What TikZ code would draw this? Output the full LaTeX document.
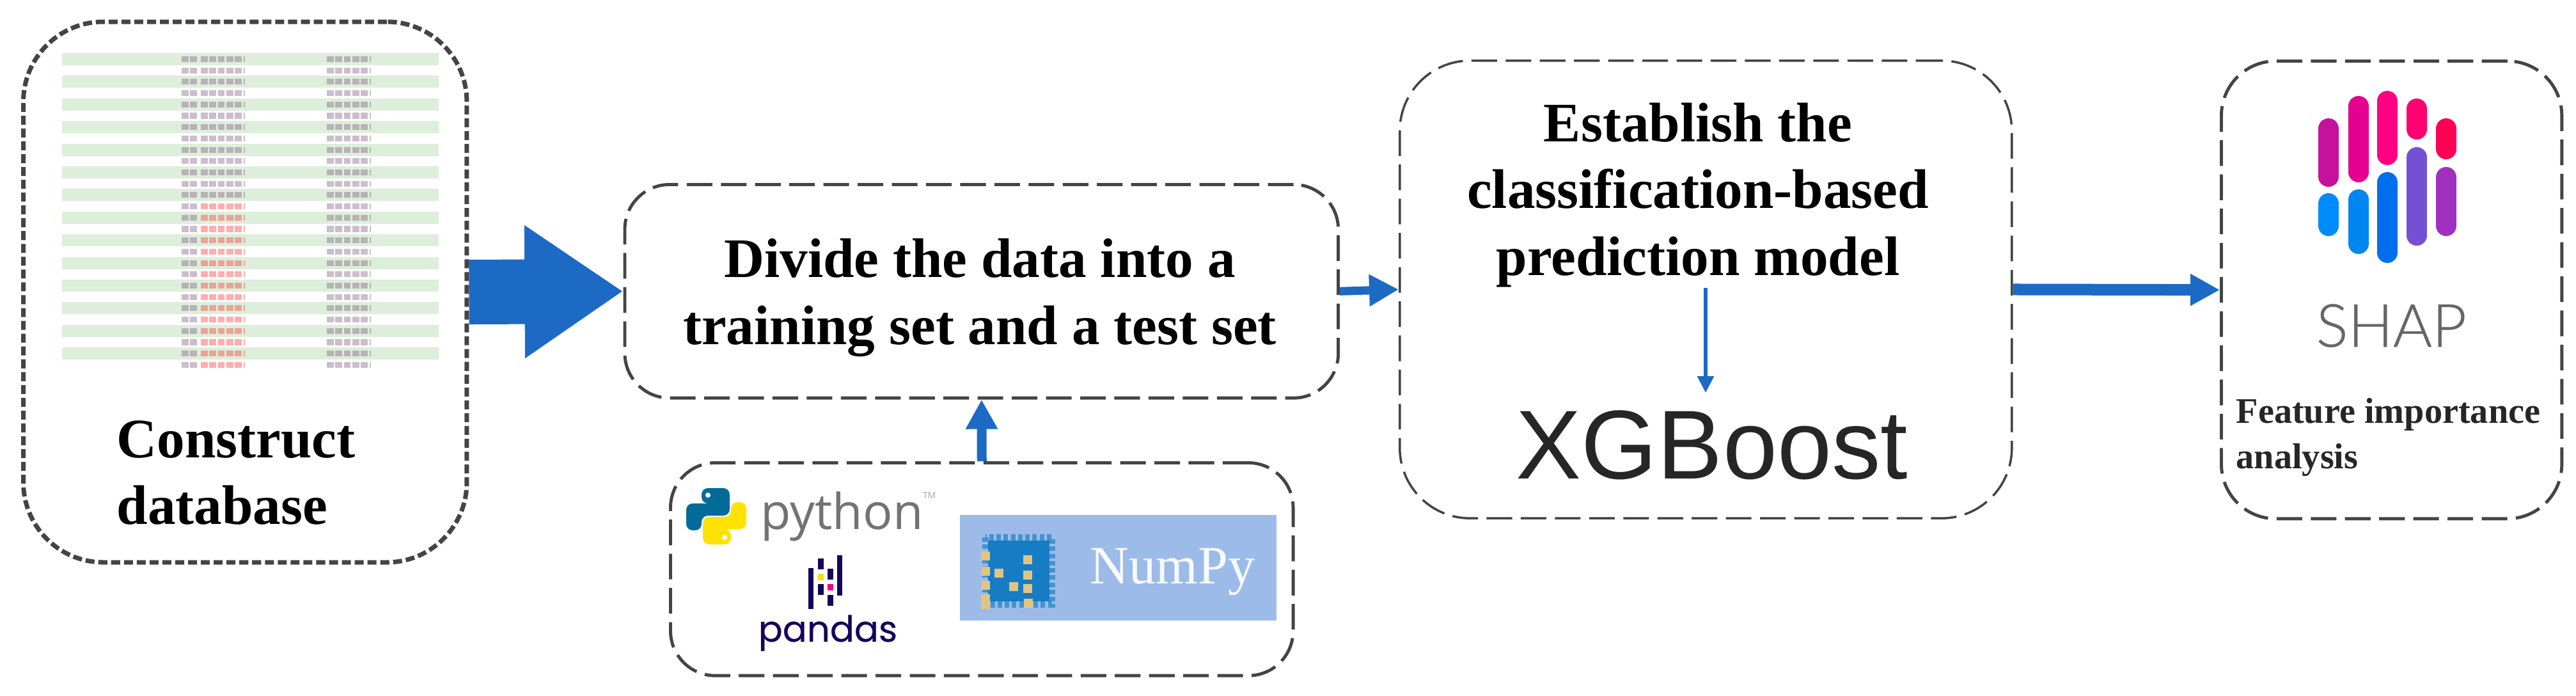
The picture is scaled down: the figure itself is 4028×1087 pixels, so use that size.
\documentclass[tikz,border=0pt]{standalone}
\usepackage{fontspec}
\usepackage{xcolor}
\usepackage{tikz}
\usetikzlibrary{positioning,arrows.meta}
\setmainfont{Liberation Serif}
\newfontfamily\xgbfont{Liberation Sans}
\newfontfamily\pyfont{Open Sans}
\newfontfamily\pdfont[FakeBold=0.4]{Poppins}
\newfontfamily\shapfont[FakeBold=0.5]{Lato Light}
\definecolor{flowblue}{RGB}{28,106,196}
\definecolor{dashgray}{RGB}{68,68,68}
\definecolor{rowgreen}{RGB}{221,238,218}
\definecolor{pdnavy}{RGB}{21,4,88}
\definecolor{npback}{RGB}{157,187,232}
\definecolor{npblue}{RGB}{22,124,196}
\definecolor{nptan}{RGB}{226,196,130}
\tikzset{
  stagebox/.style={draw=dashgray, rounded corners=1.1cm, line width=1.4pt, dash pattern=on 11.4pt off 3.8pt, anchor=north west, inner sep=0pt},
  titletext/.style={font=\bfseries\fontsize{24.8pt}{29.8pt}\selectfont, align=center, inner sep=0pt},
  smalltext/.style={font=\bfseries\fontsize{16pt}{20.2pt}\selectfont, align=left, inner sep=0pt, text=black!85},
  flowline/.style={draw=flowblue, -{Triangle[length=46*0.2845pt,width=47*0.2845pt]}},
  tablebar/.style={draw=violet!30!gray, line width=2.6pt, dash pattern=on 3pt off 0.8pt, opacity=0.4},
  tablered/.style={draw=red!80!white, line width=2.6pt, dash pattern=on 3pt off 0.8pt, opacity=0.4},
  pdbar/.style={fill=pdnavy},
  shapbar/.style={line width=32*0.2845pt, line cap=round}
}
\newcommand{\snakepath}{(0,-20) -- (-47,-20) -- (-47,22) -- (-23,22) -- (-23,-1) -- (21,-1) -- (21,-44) -- (-23,-44) -- (-23,-20) -- cycle}
\begin{document}
\begin{tikzpicture}[x=0.01cm,y=-0.01cm]
  \useasboundingbox (0,0) rectangle (4028,1087);

  % Stages
  \node[stagebox, rounded corners=1.25cm, dash pattern=on 4pt off 1.7pt, line width=2pt, minimum width=6.93cm, minimum height=8.445cm] (dbbox) at (33,30.5) {};
  \node[stagebox, rounded corners=0.7cm, minimum width=11.15cm, minimum height=3.335cm] (splitbox) at (974.5,286) {};
  \node[stagebox, rounded corners=0.7cm, minimum width=9.73cm, minimum height=3.325cm] (libbox) at (1046,721) {};
  \node[stagebox, line width=1pt, minimum width=9.565cm, minimum height=7.15cm] (modelbox) at (2187,93) {};
  \node[stagebox, rounded corners=0.85cm, minimum width=5.32cm, minimum height=7.15cm] (shapbox) at (3471,93) {};

  % Table
  \foreach \row in {0,2,...,26}
    \fill[rowgreen] (97,{92.5+17.7*\row-9.5}) rectangle (686,{92.5+17.7*\row+9.5});
  \foreach \row in {0,...,27} {
    \draw[tablebar] (284,{92.5+17.7*\row}) -- (309,{92.5+17.7*\row});
    \draw[tablebar] (511,{92.5+17.7*\row}) -- (580,{92.5+17.7*\row});
  }
  \foreach \row in {0,...,12}
    \draw[tablebar] (314,{92.5+17.7*\row}) -- (383,{92.5+17.7*\row});
  \foreach \row in {13,...,27}
    \draw[tablered] (314,{92.5+17.7*\row}) -- (383,{92.5+17.7*\row});

  % Labels
  \node[titletext, align=left, anchor=west] (dblabel) at (182,739) {Construct\\database};
  \node[titletext] (splitlabel) at (1532,465) {Divide the data into a\\training set and a test set};
  \node[titletext] (modellabel) at (2655,305) {Establish the\\classification-based\\prediction model};
  \node[anchor=base, inner sep=0pt, font=\xgbfont\fontsize{43.5pt}{50pt}\selectfont, text=black!85] (xgblabel) at (2677,748) {XGBoost};
  \node[smalltext, anchor=west] (shaplabel) at (3496,684) {Feature importance\\analysis};

  % Python logo
  \begin{scope}[shift={(1120,807)}]
    \fill[rounded corners=10*0.2845pt, fill=blue!30!cyan!60!black] \snakepath;
    \fill[white] (-13,-33) circle (4);
    \begin{scope}[rotate=180]
      \fill[rounded corners=10*0.2845pt, fill=yellow!85!orange] \snakepath;
      \fill[white] (-13,-33) circle (4);
    \end{scope}
  \end{scope}
  \node[anchor=base west, inner sep=0pt, font=\pyfont\fontsize{22pt}{26pt}\selectfont, text=black!55] (pylabel) at (1189,827) {python};
  \node[anchor=center, inner sep=0pt, font=\pyfont\fontsize{4pt}{5pt}\selectfont, text=black!35] (tmlabel) at (1453,774) {TM};

  % Pandas logo
  \fill[pdbar] (1264,888) rectangle (1272,952);
  \fill[pdbar] (1279,873) rectangle (1288,890);
  \fill[pdbar] (1279,913) rectangle (1288,930);
  \fill[pdbar] (1294,889) rectangle (1303,906);
  \fill[pdbar] (1294,930) rectangle (1303,947);
  \fill[pdbar] (1309,868) rectangle (1317,931);
  \fill[yellow!80!orange] (1279,897) rectangle (1288,907);
  \fill[magenta] (1294,913) rectangle (1303,923);
  \node[anchor=base west, inner sep=0pt, font=\pdfont\fontsize{16pt}{20pt}\selectfont, text=pdnavy] (pdlabel) at (1185,1003) {pandas};

  % NumPy logo
  \fill[npback] (1501,805) rectangle (1996,970);
  \draw[npblue!65!npback, line width=3pt, dash pattern=on 2pt off 1.2pt] (1541,840) rectangle (1645,945);
  \fill[npblue] (1545,845) rectangle (1641,940);
  \foreach \xpos/\ypos in {1541/869,1541/893,1541/915,1541/936,1541/945,1562/896,1607/875,1607/899,1607/920,1585/917,1608/943}
    \fill[nptan] (\xpos-7,\ypos-7) rectangle (\xpos+7,\ypos+7);
  \node[anchor=base west, inner sep=0pt, font=\fontsize{24pt}{28pt}\selectfont, text=white!92!npback] (nplabel) at (1704,912) {NumPy};

  % SHAP logo
  \foreach \xpos/\ytop/\ybot/\barcolor in {
    3641/185/292/{rgb,255:red,198;green,16;blue,158},
    3641/302/369/{rgb,255:red,0;green,139;blue,251},
    3688/150/285/{rgb,255:red,229;green,0;blue,143},
    3688/296/397/{rgb,255:red,0;green,134;blue,240},
    3733/142/258/{rgb,255:red,255;green,0;blue,132},
    3733/269/411/{rgb,255:red,0;green,111;blue,235},
    3779/154/218/{rgb,255:red,255;green,0;blue,112},
    3779/230/384/{rgb,255:red,117;green,80;blue,213},
    3825/185/249/{rgb,255:red,255;green,0;blue,83},
    3825/261/369/{rgb,255:red,160;green,48;blue,192}}
    \draw[shapbar, color=\barcolor] (\xpos,\ytop+16) -- (\xpos,\ybot-16);
  \node[anchor=base west, inner sep=0pt, font=\shapfont\fontsize{26.5pt}{30pt}\selectfont, text=black!60] (shaptext) at (3621,542) {SHAP};

  % Arrows
  \coordinate (thinstart) at (2667,450);
  \coordinate (thinend) at (2667,614);
  \draw[flowline, line width=1.01cm, -{Triangle[length=154*0.2845pt,width=197*0.2845pt]}] (dbbox.east) -- (splitbox.west);
  \draw[flowline, line width=15*0.2845pt] (libbox.north) -- (splitbox.south);
  \draw[flowline, line width=13*0.2845pt] (splitbox.east) -- (modelbox.west);
  \draw[flowline, line width=6*0.2845pt, -{Triangle[length=26*0.2845pt,width=25*0.2845pt]}] (thinstart) -- (thinend);
  \draw[flowline, line width=18*0.2845pt] (modelbox.east) -- (shapbox.west);
\end{tikzpicture}
\end{document}
